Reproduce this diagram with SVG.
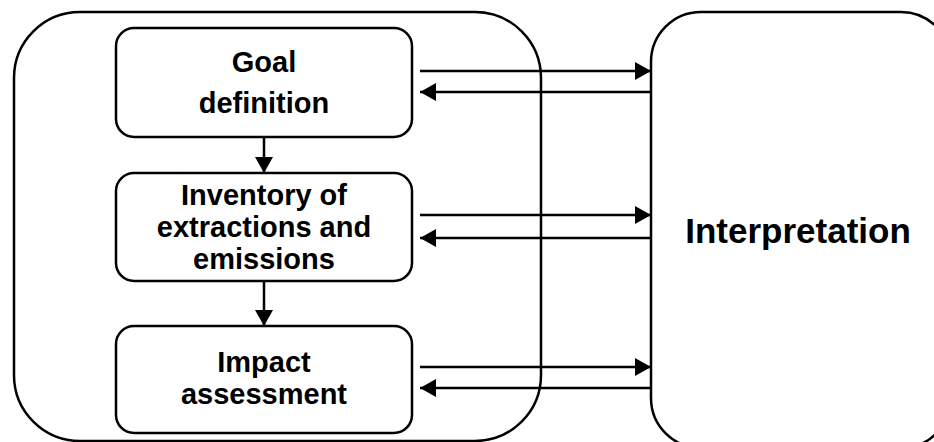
<svg xmlns="http://www.w3.org/2000/svg" width="934" height="442" viewBox="0 0 934 442">
  <defs>
    <marker id="arrow" viewBox="0 0 16 18" refX="16" refY="9" markerWidth="16" markerHeight="18" markerUnits="userSpaceOnUse" orient="auto">
      <path d="M0,0 L16,9 L0,18 Z" fill="#000"/>
    </marker>
    <style>
      .frame { fill: none; stroke: #000; stroke-width: 2.5; }
      .box { fill: #fff; stroke: #000; stroke-width: 2.5; }
      .label { font-family: "Liberation Sans", Arial, sans-serif; font-weight: bold; font-size: 29px; text-anchor: middle; fill: #000; }
      .big { font-size: 35px; }
      .link { stroke: #000; stroke-width: 2.5; fill: none; marker-end: url(#arrow); }
    </style>
  </defs>
  <rect width="934" height="442" fill="#fff"/>

  <!-- outer frame grouping the three stages -->
  <g id="phase-group">
    <rect class="frame" x="14" y="12" width="527" height="429" rx="66" ry="66"/>
  </g>

  <g id="interpretation">
    <rect class="frame" x="651" y="12" width="300" height="436" rx="50" ry="50"/>
    <text class="label big" x="798" y="243">Interpretation</text>
  </g>

  <g id="goal-definition">
    <rect class="box" x="116" y="28" width="296" height="109" rx="18" ry="18"/>
    <text class="label" x="264" y="72">Goal</text>
    <text class="label" x="264" y="113">definition</text>
  </g>

  <g id="inventory">
    <rect class="box" x="116" y="173" width="296" height="108" rx="18" ry="18"/>
    <text class="label" x="264" y="205">Inventory of</text>
    <text class="label" x="264" y="237">extractions and</text>
    <text class="label" x="264" y="269">emissions</text>
  </g>

  <g id="impact-assessment">
    <rect class="box" x="116" y="326" width="296" height="107" rx="18" ry="18"/>
    <text class="label" x="264" y="372">Impact</text>
    <text class="label" x="264" y="404">assessment</text>
  </g>

  <g id="connectors">
    <line class="link" x1="264" y1="137" x2="264" y2="173"/>
    <line class="link" x1="264" y1="281" x2="264" y2="326"/>

    <line class="link" x1="420" y1="71" x2="651" y2="71"/>
    <line class="link" x1="651" y1="92" x2="420" y2="92"/>

    <line class="link" x1="420" y1="215" x2="651" y2="215"/>
    <line class="link" x1="651" y1="238" x2="420" y2="238"/>

    <line class="link" x1="420" y1="367" x2="651" y2="367"/>
    <line class="link" x1="651" y1="388" x2="420" y2="388"/>
  </g>
</svg>
